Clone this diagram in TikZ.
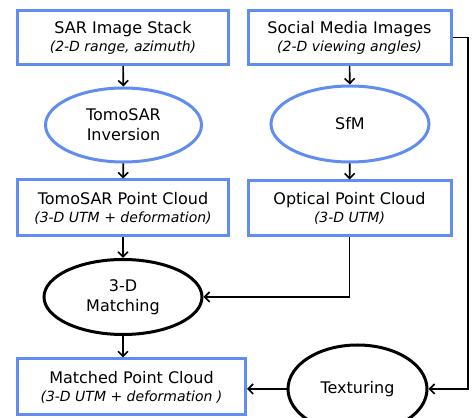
\documentclass[tikz,border=0pt]{standalone}
\usepackage{fontspec}
\setmainfont{DejaVu Sans}
\usetikzlibrary{positioning,arrows.meta,shapes.geometric}
\definecolor{boxblue}{RGB}{98,141,240}

\begin{document}
\begin{tikzpicture}[x=1pt,y=1pt,
    box/.style={draw=boxblue, line width=3pt, rectangle, align=center,
        inner sep=0pt, minimum width=211pt, minimum height=54pt,
        font=\fontsize{16}{18}\selectfont},
    sub/.style={font=\fontsize{14}{17}\selectfont\itshape},
    blueoval/.style={draw=boxblue, line width=3pt, ellipse, align=center,
        inner sep=0pt, minimum width=156pt, minimum height=74pt,
        font=\fontsize{16}{20}\selectfont},
    oval/.style={blueoval, draw=black},
    flow/.style={line width=1.6pt, -{Straight Barb[length=5pt,width=10pt]}}
]
    \useasboundingbox (0,0) rectangle (475,418);

    % Inputs
    \node[box] (sar) at (123,380.5) {SAR Image Stack\\
        {\fontsize{14}{17}\selectfont\itshape (2-D range, azimuth)}};
    \node[box, minimum width=203pt] (social) at (349.5,380.5) {Social Media Images\\
        {\fontsize{14}{17}\selectfont\itshape (2-D viewing angles)}};

    % Processing
    \node[blueoval] (tomoinv) at (123.5,293) {TomoSAR\\Inversion};
    \node[blueoval, minimum width=158pt, minimum height=76pt] (sfm) at (350,294) {SfM};

    % Point clouds
    \node[box, minimum height=56pt] (tomopc) at (123,210) {TomoSAR Point Cloud\\
        {\fontsize{14}{17}\selectfont\itshape (3-D UTM + deformation)}};
    \node[box, minimum width=203pt, minimum height=55pt] (optpc) at (349.5,209.5) {Optical Point Cloud\\
        {\fontsize{14}{17}\selectfont\itshape (3-D UTM)}};

    % Fusion
    \node[oval, minimum width=158pt, minimum height=75pt] (matching) at (123,121) {3-D\\Matching};
    \node[box, minimum width=228pt, minimum height=56pt] (matched) at (131.5,31) {Matched Point Cloud\\
        {\fontsize{14}{17}\selectfont\itshape (3-D UTM + deformation )}};
    \node[oval, minimum width=139pt, minimum height=88pt] (texturing) at (357.5,29) {Texturing};

    % Connectors
    \coordinate (bend) at (468,380.5);
    \draw[flow] (sar) -- (tomoinv);
    \draw[flow] (social) -- (sfm);
    \draw[flow] (tomoinv) -- (tomopc);
    \draw[flow] (sfm) -- (optpc);
    \draw[flow] (tomopc) -- (matching);
    \draw[flow] (optpc.south) |- (matching.east);
    \draw[flow] (matching.south) -- (matching.south |- matched.north);
    \draw[flow] (texturing.west) -- (texturing.west -| matched.east);
    \draw[flow] (social.east) -- (bend) |- (texturing.east);
\end{tikzpicture}
\end{document}
